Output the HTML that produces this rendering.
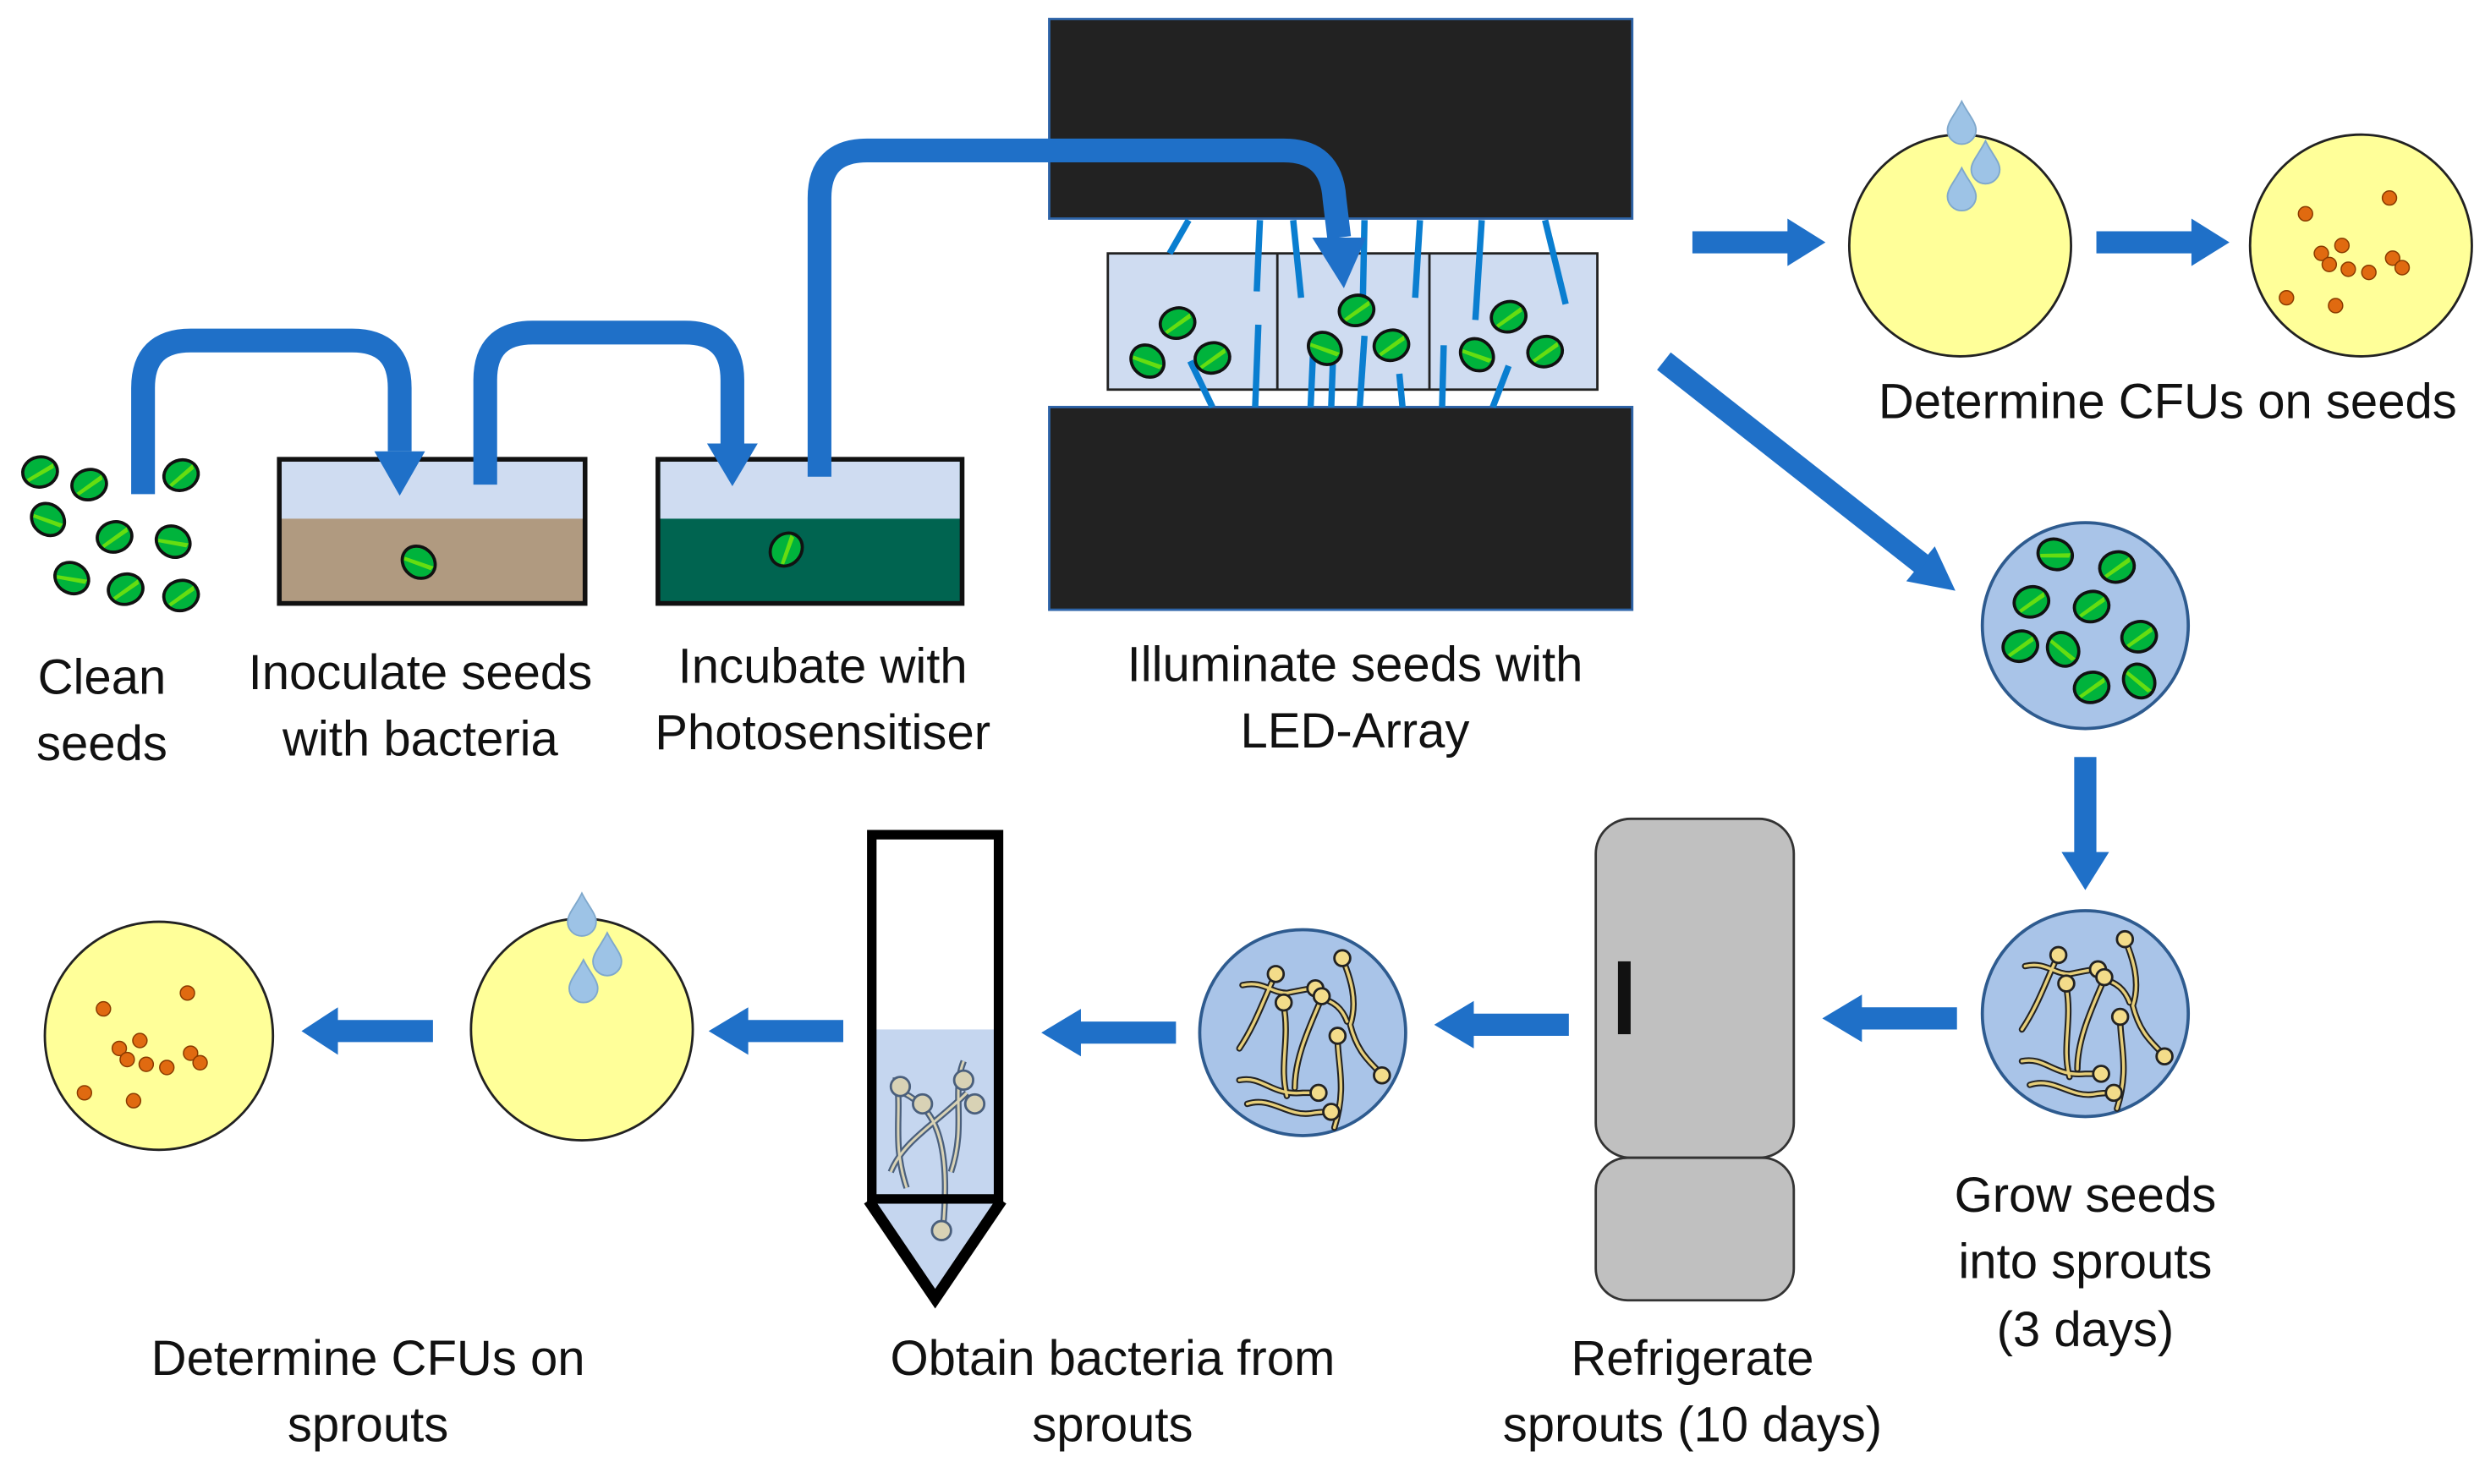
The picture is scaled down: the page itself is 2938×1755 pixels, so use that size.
<!DOCTYPE html>
<html><head><meta charset="utf-8"><style>
html,body{margin:0;padding:0;background:#fff;}
svg{display:block;}
text{font-family:"Liberation Sans",sans-serif;font-size:31px;fill:#111;text-anchor:middle;}
</style></head><body>
<svg width="2938" height="1755" viewBox="0 0 1568 937" xmlns="http://www.w3.org/2000/svg">
<defs>
<g id="seed"><ellipse cx="0" cy="0" rx="11" ry="9.5" fill="#00b33c" stroke="#111" stroke-width="2"/><path d="M-9,3 L9,-4 L9,-1 L-8,5Z" fill="#66dd11"/></g>
<g id="drop"><path d="M0,-14 C4,-6 9,-1 9,4 A9,9 0 0 1 -9,4 C-9,-1 -4,-6 0,-14Z" fill="#9dc3e6" stroke="#7fa8cc" stroke-width="1"/></g>
<g id="sprouts" fill="none" stroke-linecap="round">
<g stroke="#222" stroke-width="4">
<path d="M-18,-40 C-25,-25 -30,-10 -40,5"/><path d="M-38,-35 C-25,-38 -20,-30 -10,-30 C0,-32 5,-33 8,-33"/>
<path d="M-12,-22 C-8,0 -15,15 -10,35"/><path d="M12,-27 C5,-10 -5,10 -5,30"/>
<path d="M25,-52 C30,-40 35,-25 30,-10 C35,10 45,15 50,22"/><path d="M10,-27 C20,-25 25,-20 28,-12"/>
<path d="M-40,25 C-25,22 -20,35 0,33 C5,33 8,33 10,33"/><path d="M-35,40 C-20,35 -10,48 5,46 C10,45 15,45 18,45"/>
<path d="M22,-2 C22,15 28,30 20,55"/></g>
<g stroke="#e7cf7a" stroke-width="1.8">
<path d="M-18,-40 C-25,-25 -30,-10 -40,5"/><path d="M-38,-35 C-25,-38 -20,-30 -10,-30 C0,-32 5,-33 8,-33"/>
<path d="M-12,-22 C-8,0 -15,15 -10,35"/><path d="M12,-27 C5,-10 -5,10 -5,30"/>
<path d="M25,-52 C30,-40 35,-25 30,-10 C35,10 45,15 50,22"/><path d="M10,-27 C20,-25 25,-20 28,-12"/>
<path d="M-40,25 C-25,22 -20,35 0,33 C5,33 8,33 10,33"/><path d="M-35,40 C-20,35 -10,48 5,46 C10,45 15,45 18,45"/>
<path d="M22,-2 C22,15 28,30 20,55"/></g>
<g fill="#f3dc8a" stroke="#222" stroke-width="1.5">
<circle cx="-17" cy="-42" r="5"/><circle cx="8" cy="-33" r="5"/><circle cx="-12" cy="-24" r="5"/><circle cx="12" cy="-28" r="5"/>
<circle cx="25" cy="-52" r="5"/><circle cx="50" cy="22" r="5"/><circle cx="10" cy="33" r="5"/><circle cx="18" cy="45" r="5"/><circle cx="22" cy="-3" r="5"/></g>
</g>
<g id="dots" fill="#e06a10" stroke="#8a3b00" stroke-width="0.8">
<circle cx="-35" cy="-20" r="4.5"/><circle cx="18" cy="-30" r="4.5"/><circle cx="-25" cy="5" r="4.5"/><circle cx="-12" cy="0" r="4.5"/>
<circle cx="-20" cy="12" r="4.5"/><circle cx="-8" cy="15" r="4.5"/><circle cx="5" cy="17" r="4.5"/><circle cx="20" cy="8" r="4.5"/>
<circle cx="26" cy="14" r="4.5"/><circle cx="-47" cy="33" r="4.5"/><circle cx="-16" cy="38" r="4.5"/></g>
</defs>

<!-- seeds left -->
<use href="#seed" transform="translate(25,298) rotate(-10)"/><use href="#seed" transform="translate(56,306) rotate(-15)"/><use href="#seed" transform="translate(114,300) rotate(-20)"/>
<use href="#seed" transform="translate(30,328) rotate(40)"/><use href="#seed" transform="translate(72,339) rotate(-15)"/><use href="#seed" transform="translate(109,342) rotate(30)"/>
<use href="#seed" transform="translate(45,365) rotate(30)"/><use href="#seed" transform="translate(79,372) rotate(-15)"/><use href="#seed" transform="translate(114,376) rotate(-15)"/>

<!-- tanks -->
<rect x="176" y="290" width="193" height="91" fill="#b09a80" stroke="#111" stroke-width="3"/>
<rect x="177.5" y="291.5" width="190" height="36" fill="#cfdcf1"/>
<use href="#seed" transform="translate(264,355) rotate(40)"/>
<rect x="415" y="290" width="192" height="91" fill="#006450" stroke="#111" stroke-width="3"/>
<rect x="416.5" y="291.5" width="189" height="36" fill="#cfdcf1"/>
<use href="#seed" transform="translate(496,347) rotate(-50)"/>

<!-- LED array -->
<rect x="662" y="12" width="368" height="126" fill="#222" stroke="#2e64a8" stroke-width="1.5"/>
<rect x="662" y="257" width="368" height="128" fill="#222" stroke="#2e64a8" stroke-width="1.5"/>
<rect x="699" y="160" width="309" height="86" fill="#cfdcf1" stroke="#222" stroke-width="1.5"/>
<line x1="806" y1="160" x2="806" y2="246" stroke="#222" stroke-width="1.5"/><line x1="902" y1="160" x2="902" y2="246" stroke="#222" stroke-width="1.5"/>
<g stroke="#0a7ed0" stroke-width="4">
<line x1="750" y1="139" x2="738" y2="160"/><line x1="795" y1="139" x2="793" y2="184"/><line x1="816" y1="139" x2="821" y2="188"/>
<line x1="861" y1="139" x2="860" y2="188"/><line x1="896" y1="139" x2="893" y2="188"/><line x1="935" y1="139" x2="931" y2="202"/><line x1="975" y1="139" x2="988" y2="192"/>
<line x1="751" y1="228" x2="765" y2="257"/><line x1="794" y1="205" x2="792" y2="257"/><line x1="829" y1="212" x2="827" y2="257"/>
<line x1="841" y1="230" x2="840" y2="257"/><line x1="861" y1="212" x2="858" y2="257"/><line x1="883" y1="236" x2="885" y2="257"/>
<line x1="911" y1="218" x2="910" y2="257"/><line x1="952" y1="231" x2="942" y2="257"/>
</g>
<use href="#seed" transform="translate(743,204) rotate(-15)"/><use href="#seed" transform="translate(724,228) rotate(40)"/><use href="#seed" transform="translate(765,226) rotate(-15)"/>
<use href="#seed" transform="translate(856,196) rotate(-15)"/><use href="#seed" transform="translate(836,220) rotate(40)"/><use href="#seed" transform="translate(878,218) rotate(-15)"/>
<use href="#seed" transform="translate(952,200) rotate(-15)"/><use href="#seed" transform="translate(932,224) rotate(40)"/><use href="#seed" transform="translate(975,222) rotate(-15)"/>

<!-- curved arrows (on top) -->
<g fill="none" stroke="#1f70c8" stroke-width="15">
<path d="M90,312 V245 Q90,215 120,215 H222 Q252,215 252,245 V285"/>
<path d="M306,306 V240 Q306,210 336,210 H432 Q462,210 462,240 V280"/>
<path d="M517,301 V125 Q517,95 547,95 H810 Q840,95 842,125 L845,150"/>
</g>
<g fill="#1f70c8">
<polygon points="236,285 268,285 252,313"/><polygon points="446,280 478,280 462,307"/><polygon points="828,150 862,150 848,182"/>
</g>

<!-- straight arrows -->
<g fill="#1f70c8">
<polygon points="1068,146 1128,146 1128,138 1152,153 1128,168 1128,160 1068,160"/>
<polygon points="1323,146 1383,146 1383,138 1407,153 1383,168 1383,160 1323,160"/>
<polygon points="1234,373 1203,367 1221,345"/>
<polygon points="1309,478 1323,478 1323,538 1331,538 1316,562 1301,538 1309,538"/>
<polygon points="1235,636 1175,636 1175,628 1150,643 1175,658 1175,650 1235,650"/>
<polygon points="990,640 930,640 930,632 905,647 930,662 930,654 990,654"/>
<polygon points="742,645 682,645 682,637 657,652 682,667 682,659 742,659"/>
<polygon points="532,644 472,644 472,636 447,651 472,666 472,658 532,658"/>
<polygon points="273,644 213,644 213,636 190,651 213,666 213,658 273,658"/>
</g>
<line x1="1050" y1="228" x2="1214" y2="357" stroke="#1f70c8" stroke-width="14"/>

<!-- petri top right -->
<circle cx="1237" cy="155" r="70" fill="#ffff99" stroke="#222" stroke-width="1.5"/>
<use href="#drop" transform="translate(1238,78)"/><use href="#drop" transform="translate(1253,103)"/><use href="#drop" transform="translate(1238,120)"/>
<circle cx="1490" cy="155" r="70" fill="#ffff99" stroke="#222" stroke-width="1.5"/>
<use href="#dots" transform="translate(1490,155)"/>
<text x="1368" y="264">Determine CFUs on seeds</text>

<!-- seed dish -->
<circle cx="1316" cy="395" r="65" fill="#a9c4e8" stroke="#2e5b8f" stroke-width="2"/>
<use href="#seed" transform="translate(1297,350) rotate(20)"/><use href="#seed" transform="translate(1336,358) rotate(-15)"/>
<use href="#seed" transform="translate(1282,380) rotate(-15)"/><use href="#seed" transform="translate(1320,383) rotate(-15)"/><use href="#seed" transform="translate(1350,402) rotate(-15)"/>
<use href="#seed" transform="translate(1275,408) rotate(-15)"/><use href="#seed" transform="translate(1302,410) rotate(60)"/>
<use href="#seed" transform="translate(1320,434) rotate(-15)"/><use href="#seed" transform="translate(1350,430) rotate(60)"/>

<!-- sprout dishes -->
<circle cx="1316" cy="640" r="65" fill="#a9c4e8" stroke="#2e5b8f" stroke-width="2"/>
<use href="#sprouts" transform="translate(1316,645)"/>
<circle cx="822" cy="652" r="65" fill="#a9c4e8" stroke="#2e5b8f" stroke-width="2"/>
<use href="#sprouts" transform="translate(822,657)"/>

<!-- fridge -->
<rect x="1007" y="517" width="125" height="214" rx="22" fill="#c0c0c0" stroke="#333" stroke-width="1.5"/>
<rect x="1007" y="731" width="125" height="90" rx="20" fill="#c0c0c0" stroke="#333" stroke-width="1.5"/>
<rect x="1021" y="607" width="8" height="46" fill="#111"/>

<!-- tube -->
<rect x="550" y="650" width="80" height="108" fill="#c5d6ef"/>
<polygon points="550,758 630,758 590,818" fill="#c5d6ef"/>
<g fill="none" stroke="#4a5f7c" stroke-width="4"><path d="M565,680 C570,700 562,720 572,750"/><path d="M608,670 C600,690 610,710 600,740"/><path d="M570,690 C590,700 600,720 595,775"/><path d="M610,690 C590,710 570,720 562,740"/></g>
<g fill="none" stroke="#d8d2b5" stroke-width="1.6"><path d="M565,680 C570,700 562,720 572,750"/><path d="M608,670 C600,690 610,710 600,740"/><path d="M570,690 C590,700 600,720 595,775"/><path d="M610,690 C590,710 570,720 562,740"/></g>
<g fill="#d8d2b5" stroke="#4a5f7c" stroke-width="1.5"><circle cx="568" cy="686" r="6"/><circle cx="582" cy="697" r="6"/><circle cx="608" cy="682" r="6"/><circle cx="615" cy="697" r="6"/><circle cx="594" cy="777" r="6"/></g>
<path d="M550,527 V757 H630 V527 Z" fill="none" stroke="#000" stroke-width="6"/>
<path d="M548,758 L590,820 L632,758" fill="none" stroke="#000" stroke-width="7"/>

<!-- bottom petri -->
<circle cx="367" cy="650" r="70" fill="#ffff99" stroke="#222" stroke-width="1.5"/>
<use href="#drop" transform="translate(367,578)"/><use href="#drop" transform="translate(383,603)"/><use href="#drop" transform="translate(368,620)"/>
<circle cx="100" cy="654" r="72" fill="#ffff99" stroke="#222" stroke-width="1.5"/>
<use href="#dots" transform="translate(100,657)"/>

<!-- labels -->
<text x="64" y="438">Clean</text><text x="64" y="480">seeds</text>
<text x="265" y="435">Inoculate seeds</text><text x="265" y="477">with bacteria</text>
<text x="519" y="431">Incubate with</text><text x="519" y="473">Photosensitiser</text>
<text x="855" y="430">Illuminate seeds with</text><text x="855" y="472">LED-Array</text>
<text x="1316" y="765">Grow seeds</text><text x="1316" y="807">into sprouts</text><text x="1316" y="850">(3 days)</text>
<text x="1068" y="868">Refrigerate</text><text x="1068" y="910">sprouts (10 days)</text>
<text x="702" y="868">Obtain bacteria from</text><text x="702" y="910">sprouts</text>
<text x="232" y="868">Determine CFUs on</text><text x="232" y="910">sprouts</text>
</svg>
</body></html>
